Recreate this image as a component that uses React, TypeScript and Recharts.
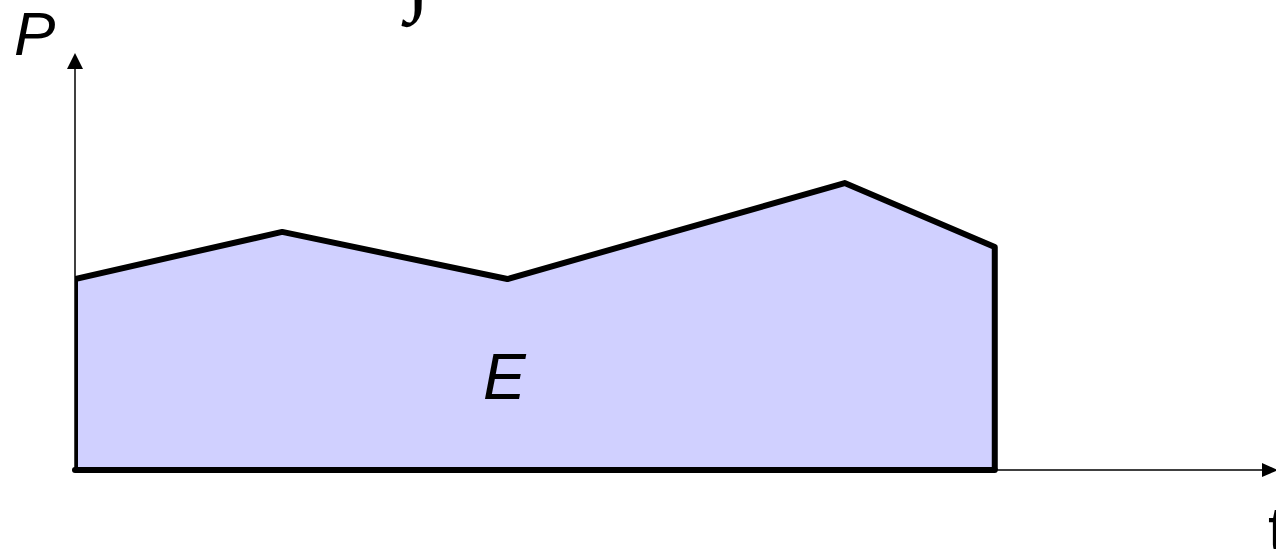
import { ComposedChart, Area, XAxis, YAxis, ReferenceLine, ReferenceDot } from 'recharts';

// power curve P(t), closed down to the t axis at both ends
const times = [0, 0, 20.7, 43.2, 76.9, 91.9, 91.9];
const power = [0, 45.8, 57.1, 45.8, 68.8, 53.5, 0];

const tDomain = [0, 120];
const pDomain = [0, 100];

const data = times.map((t, i) => ({ t, p: power[i] }));

const font = '"Liberation Sans", Arial, sans-serif';

const upArrow = (props: any) => {
  const { cx, cy } = props;
  return <polygon points={`${cx},${cy} ${cx - 8},${cy + 16} ${cx + 8},${cy + 16}`} fill="#000" />;
};

const rightArrow = (props: any) => {
  const { cx, cy } = props;
  return <polygon points={`${cx + 2},${cy} ${cx - 14},${cy - 7} ${cx - 14},${cy + 7}`} fill="#000" />;
};

const text = (value: string, dx: number, dy: number, size: number, family = font, italic = true, anchor = 'start') =>
  (props: any) => (
    <text
      x={props.cx + dx}
      y={props.cy + dy}
      fontSize={size}
      fontFamily={family}
      fontStyle={italic ? 'italic' : 'normal'}
      textAnchor={anchor}
      fill="#000"
    >
      {value}
    </text>
  );

export default function App() {
  return (
    <div style={{ position: 'absolute', left: 0, top: 0, width: 1276, height: 549, background: '#fff' }}>
      <ComposedChart width={1276} height={549} data={data} margin={{ top: 53, right: 0, bottom: 79, left: 75 }}>
        <XAxis dataKey="t" type="number" domain={tDomain} allowDataOverflow hide />
        <YAxis type="number" domain={pDomain} allowDataOverflow hide />
        {/* axes */}
        <ReferenceLine
          segment={[{ x: tDomain[0], y: pDomain[0] }, { x: tDomain[0], y: pDomain[1] - 2 }]}
          stroke="#000"
          strokeWidth={1.5}
          ifOverflow="visible"
        />
        <ReferenceLine
          segment={[{ x: tDomain[0], y: pDomain[0] }, { x: tDomain[1] - 1, y: pDomain[0] }]}
          stroke="#000"
          strokeWidth={1.5}
          ifOverflow="visible"
        />
        <Area
          type="linear"
          dataKey="p"
          baseValue={0}
          fill="#d0d0ff"
          fillOpacity={1}
          stroke="#000"
          strokeWidth={6}
          strokeLinejoin="round"
          isAnimationActive={false}
          dot={false}
          activeDot={false}
        />
        <ReferenceLine
          segment={[{ x: times[0], y: 0 }, { x: times[times.length - 1], y: 0 }]}
          stroke="#000"
          strokeWidth={6}
          strokeLinecap="round"
          ifOverflow="visible"
        />
        <ReferenceDot x={tDomain[0]} y={pDomain[1]} ifOverflow="visible" shape={upArrow} />
        <ReferenceDot x={tDomain[1]} y={pDomain[0]} ifOverflow="visible" shape={rightArrow} />
        <ReferenceDot x={tDomain[0]} y={pDomain[1]} ifOverflow="visible" shape={text('P', -61, 2, 62)} />
        <ReferenceDot x={tDomain[1]} y={pDomain[0]} ifOverflow="visible" shape={text('t', -8, 82, 64, font, false)} />
        <ReferenceDot x={42.9} y={17} ifOverflow="visible" shape={text('E', 0, 0, 64, font, true, 'middle')} />
        <ReferenceDot
          x={34.3}
          y={pDomain[1]}
          ifOverflow="visible"
          shape={text('∫', 0, -50, 90, '"Liberation Serif", "DejaVu Serif", serif', false, 'middle')}
        />
      </ComposedChart>
    </div>
  );
}
